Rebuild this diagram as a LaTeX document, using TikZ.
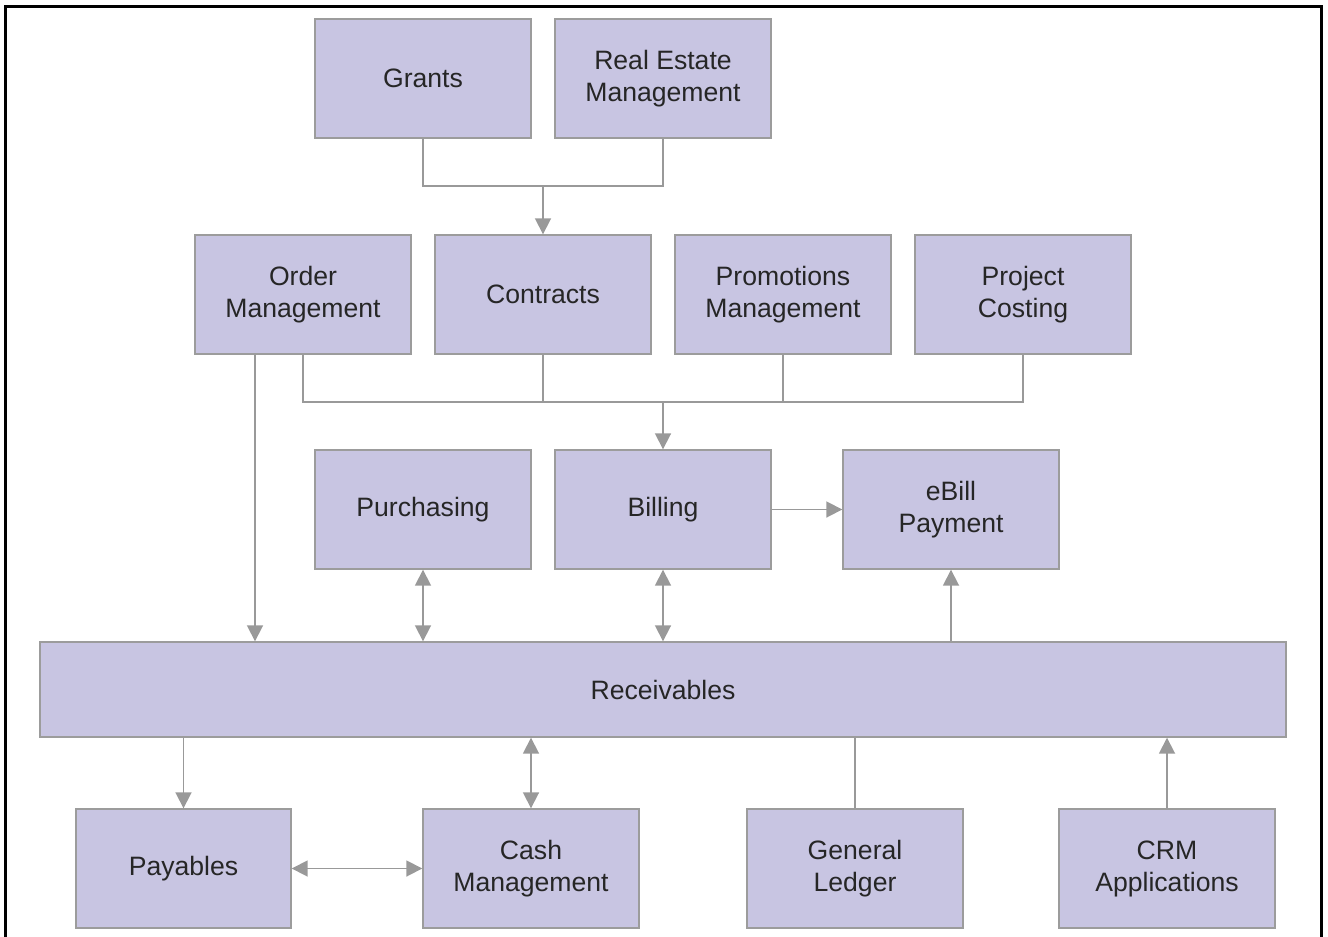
\documentclass[tikz,border=0pt]{standalone}
\usepackage{fontspec}
\setmainfont{Liberation Sans}
\usepackage{tikz}
\usetikzlibrary{
    arrows.meta,
    calc,
    positioning
}
\definecolor{boxfill}{HTML}{C8C5E2}
\definecolor{boxline}{HTML}{9C9C9C}
\definecolor{linkgray}{HTML}{999999}

\begin{document}
\begin{tikzpicture}[x=0.5pt, y=-0.5pt,
        module/.style={draw=boxline, line width=0.7pt, fill=boxfill, inner sep=0pt,
            minimum width=108pt, minimum height=59.5pt, align=center,
            text=black!85, font=\fontsize{13.3}{16}\selectfont},
        link/.style={draw=linkgray, line width=0.9pt},
        >={Triangle[length=8pt, width=8pt]}]
    \useasboundingbox (0, 0) rectangle (1328, 937);
    \draw[line width=1.5pt] (5, 937) -- (5, 6) -- (1321, 6) -- (1321, 937);
    % top row
    \node[module] (grants) at (423, 78.5) {Grants};
    \node[module] (estate) at (663, 78.5) {Real Estate\\Management};
    % second row
    \node[module] (order) at (303, 294.5) {Order\\Management};
    \node[module] (contracts) at (543, 294.5) {Contracts};
    \node[module] (promo) at (783, 294.5) {Promotions\\Management};
    \node[module] (project) at (1023, 294.5) {Project\\Costing};
    % third row
    \node[module] (purch) at (423, 509.5) {Purchasing};
    \node[module] (billing) at (663, 509.5) {Billing};
    \node[module] (ebill) at (951, 509.5) {eBill\\Payment};
    % receivables
    \node[module, minimum width=623pt, minimum height=47.5pt] (recv) at (663, 689.5) {Receivables};
    % bottom row
    \node[module, minimum width=107.5pt] (pay) at (183.5, 868.5) {Payables};
    \node[module] (cash) at (531, 868.5) {Cash\\Management};
    \node[module] (gl) at (855, 868.5) {General\\Ledger};
    \node[module] (crm) at (1167, 868.5) {CRM\\Applications};

    \coordinate (topjoin) at (543, 186);
    \coordinate (midjoin) at (663, 402);
    \coordinate (ordertap) at ($(order.south)+(-48, 0)$);

    \draw[link] (grants.south) |- (topjoin) -| (estate.south);
    \draw[link, ->] (topjoin) -- (contracts.north);
    \draw[link] (order.south) |- (midjoin) -| (project.south);
    \draw[link] (contracts.south) -- (contracts.south |- midjoin);
    \draw[link] (promo.south) -- (promo.south |- midjoin);
    \draw[link, ->] (midjoin) -- (billing.north);
    \draw[link, ->] (ordertap) -- (ordertap |- recv.north);
    \draw[link, <->] (purch.south) -- (purch.south |- recv.north);
    \draw[link, <->] (billing.south) -- (billing.south |- recv.north);
    \draw[link, ->] (billing.east) -- (ebill.west);
    \draw[link, ->] (ebill.south |- recv.north) -- (ebill.south);
    \draw[link, ->] (pay.north |- recv.south) -- (pay.north);
    \draw[link, <->] (cash.north) -- (cash.north |- recv.south);
    \draw[link] (gl.north) -- (gl.north |- recv.south);
    \draw[link, ->] (crm.north) -- (crm.north |- recv.south);
    \draw[link, <->] (pay.east) -- (cash.west);
\end{tikzpicture}
\end{document}
